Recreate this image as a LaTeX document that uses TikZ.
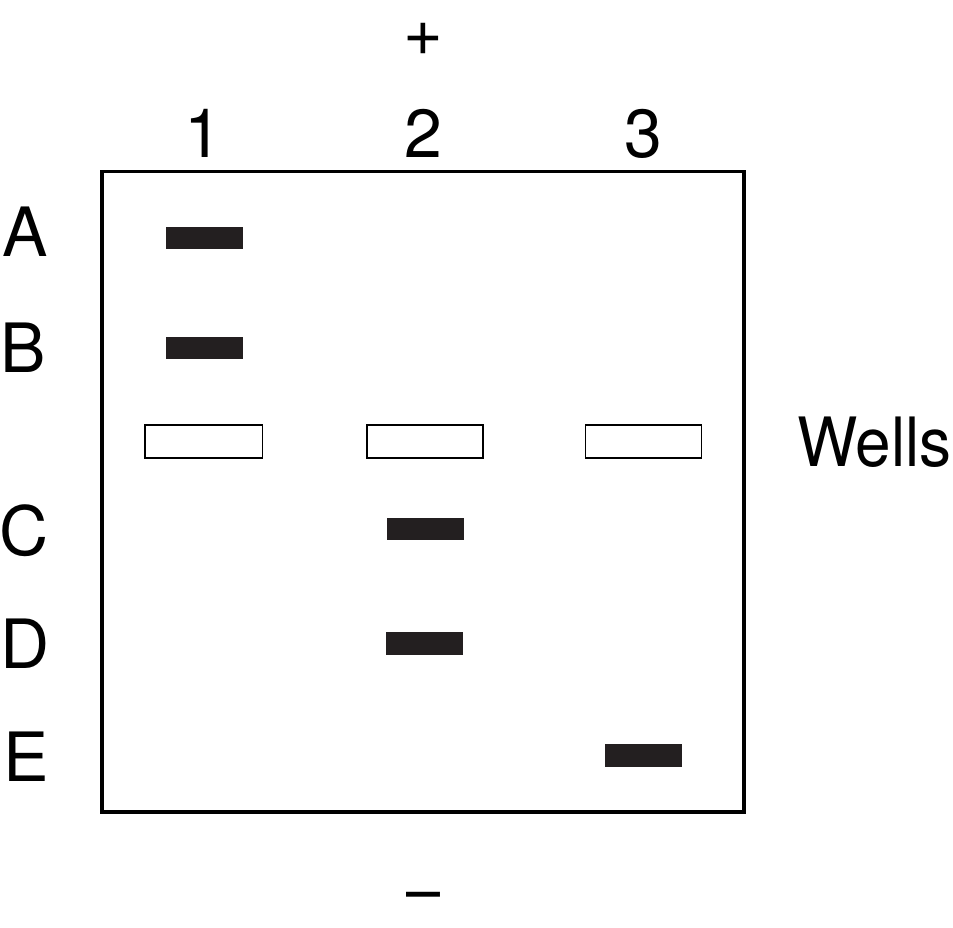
\documentclass[tikz,border=0pt]{standalone}
\usepackage{fontspec}
\setmainfont{TeX Gyre Heros}
\usepackage{xcolor}
\definecolor{bandcolor}{RGB}{35,31,32}

\begin{document}
\begin{tikzpicture}[x=0.75pt,y=0.75pt,yscale=-1,xscale=1,
  band/.style={fill=bandcolor,draw=none},
  well/.style={draw=black,line width=1.2pt,fill=white},
  gel/.style={draw=black,line width=2.8pt},
  lbl/.style={inner sep=0pt,font=\fontsize{51}{60}\selectfont}]
\useasboundingbox (0,0) rectangle (953,928);

%Shape: Rectangle [gel]
\draw [gel] (102,171.5) rectangle (744,812);

%Shape: Rectangle [wells]
\draw [well] (145,425) rectangle (262.5,458);
\draw [well] (367,425) rectangle (483,458);
\draw [well] (585.5,425) rectangle (701.5,458);

%Shape: Rectangle [bands]
\draw [band] (166,227) rectangle (243,249);
\draw [band] (166,337) rectangle (243,359);
\draw [band] (387,517.5) rectangle (463.5,540);
\draw [band] (386,632) rectangle (462.5,654.5);
\draw [band] (605,744) rectangle (682,767);

% Text Node
\node (plus) [lbl,anchor=center] at (423,39) {+};
% Text Node
\node (minus) [lbl,anchor=base,xscale=0.9] at (424,913) {–};
% Text Node
\node (lane1) [lbl,anchor=base] at (203,157) {1};
% Text Node
\node (lane2) [lbl,anchor=base] at (423,157) {2};
% Text Node
\node (lane3) [lbl,anchor=base] at (643,157) {3};
% Text Node
\node (bandA) [lbl,anchor=base west] at (2,256) {A};
% Text Node
\node (bandB) [lbl,anchor=base west] at (0,372) {B};
% Text Node
\node (bandC) [lbl,anchor=base west] at (-1,555) {C};
% Text Node
\node (bandD) [lbl,anchor=base west] at (0,668) {D};
% Text Node
\node (bandE) [lbl,anchor=base west] at (3,781) {E};
% Text Node
\node (wells) [lbl,anchor=base west,xscale=0.94] at (797,466) {Wells};

\end{tikzpicture}
\end{document}
